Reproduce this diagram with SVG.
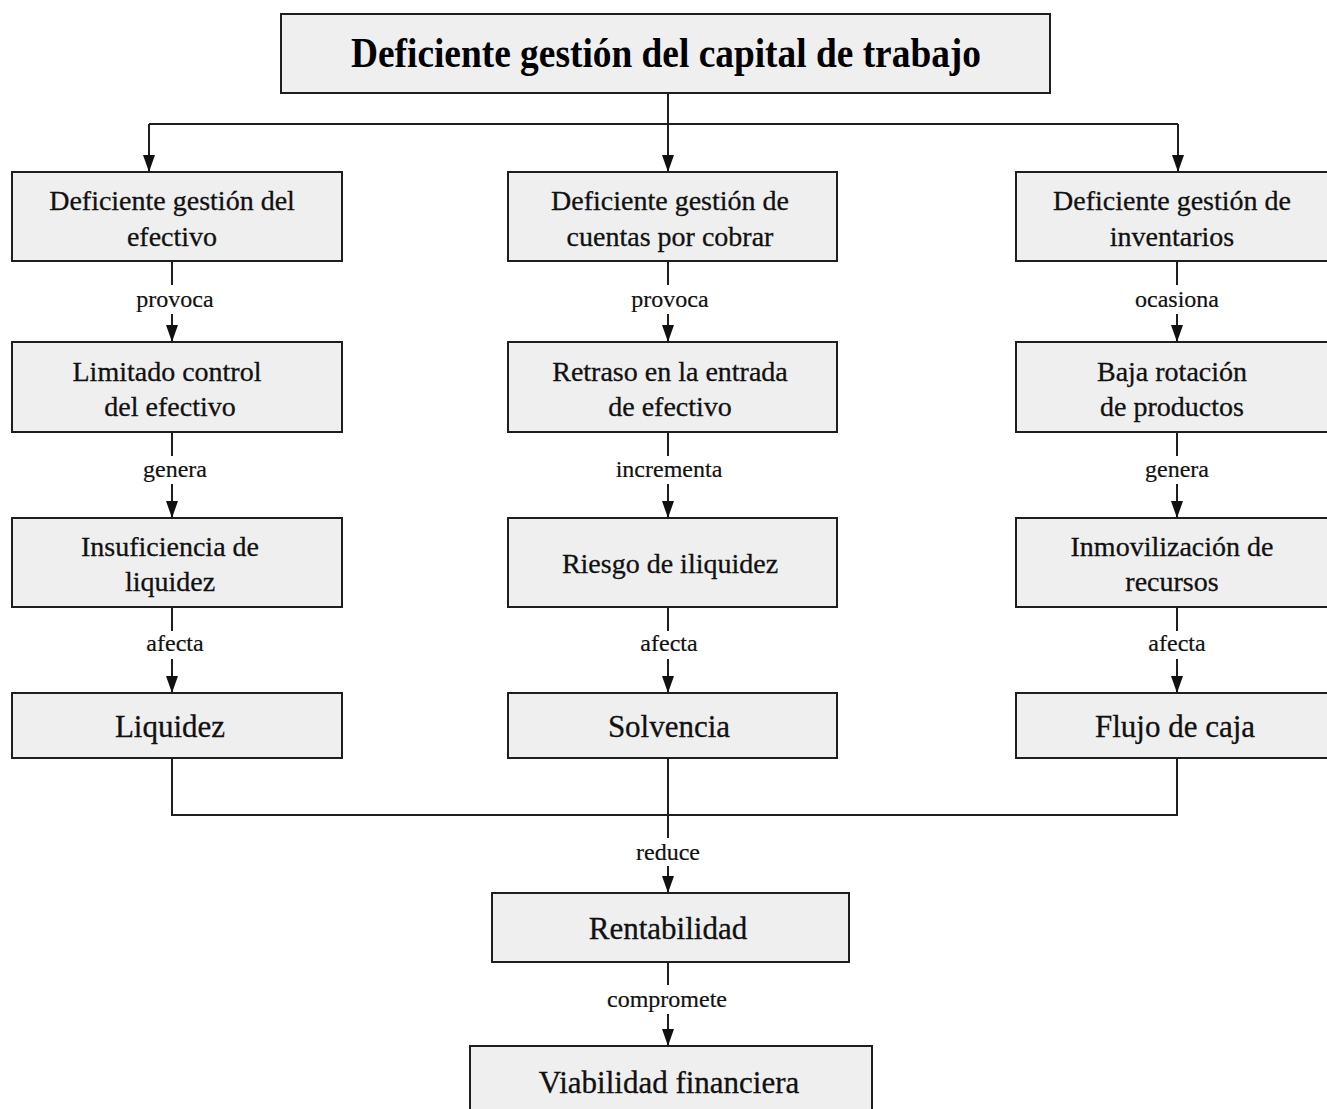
<svg xmlns="http://www.w3.org/2000/svg" width="1327" height="1109" viewBox="0 0 1327 1109">
<style>
.box{fill:#efefef;stroke:#1e1e1e;stroke-width:2}
.t{font-family:"Liberation Serif","Times New Roman",serif;font-size:28px;fill:#111;text-anchor:middle;stroke:#111;stroke-width:0.3}
.tb{font-size:31px}
.title{font-family:"Liberation Serif","Times New Roman",serif;font-size:42px;font-weight:bold;fill:#000;text-anchor:middle}
.lbl{font-family:"Liberation Serif","Times New Roman",serif;font-size:24px;fill:#111;text-anchor:middle;stroke:#111;stroke-width:0.2}
.ln{fill:none;stroke:#1e1e1e;stroke-width:2}
</style>
<defs>
<marker id="ah" markerWidth="17" markerHeight="12" refX="17" refY="6" orient="auto" markerUnits="userSpaceOnUse" viewBox="0 0 17 12">
<path d="M0,0 L17,6 L0,12 z" fill="#111"/>
</marker>
</defs>
<rect width="1327" height="1109" fill="#ffffff"/>
<g id="connectors">
<path class="ln" d="M668,93 V172" marker-end="url(#ah)"/>
<path class="ln" d="M149,124 H1178"/>
<path class="ln" d="M149,124 V172" marker-end="url(#ah)"/>
<path class="ln" d="M1178,124 V172" marker-end="url(#ah)"/>
<path class="ln" d="M172,261 V285"/><path class="ln" d="M172,314 V342" marker-end="url(#ah)"/>
<path class="ln" d="M172,432 V456"/><path class="ln" d="M172,484 V518" marker-end="url(#ah)"/>
<path class="ln" d="M172,607 V631"/><path class="ln" d="M172,659 V693" marker-end="url(#ah)"/>
<path class="ln" d="M668,261 V285"/><path class="ln" d="M668,314 V342" marker-end="url(#ah)"/>
<path class="ln" d="M668,432 V456"/><path class="ln" d="M668,484 V518" marker-end="url(#ah)"/>
<path class="ln" d="M668,607 V631"/><path class="ln" d="M668,659 V693" marker-end="url(#ah)"/>
<path class="ln" d="M1177,261 V285"/><path class="ln" d="M1177,314 V342" marker-end="url(#ah)"/>
<path class="ln" d="M1177,432 V456"/><path class="ln" d="M1177,484 V518" marker-end="url(#ah)"/>
<path class="ln" d="M1177,607 V631"/><path class="ln" d="M1177,659 V693" marker-end="url(#ah)"/>
<path class="ln" d="M172,758 V815 H1177 V758"/>
<path class="ln" d="M668,758 V838"/>
<path class="ln" d="M668,866 V893" marker-end="url(#ah)"/>
<path class="ln" d="M668,962 V985"/>
<path class="ln" d="M668,1014 V1046" marker-end="url(#ah)"/>
<text class="lbl" x="175" y="307">provoca</text>
<text class="lbl" x="175" y="477">genera</text>
<text class="lbl" x="175" y="651">afecta</text>
<text class="lbl" x="670" y="307">provoca</text>
<text class="lbl" x="669" y="477">incrementa</text>
<text class="lbl" x="669" y="651">afecta</text>
<text class="lbl" x="1177" y="307">ocasiona</text>
<text class="lbl" x="1177" y="477">genera</text>
<text class="lbl" x="1177" y="651">afecta</text>
<text class="lbl" x="668" y="860">reduce</text>
<text class="lbl" x="667" y="1007">compromete</text>
</g>
<g id="n-root"><rect class="box" x="281" y="14" width="769" height="79"/><text class="title" x="666" y="67" textLength="630" lengthAdjust="spacingAndGlyphs">Deficiente gestión del capital de trabajo</text></g>
<g id="n-efectivo"><rect class="box" x="12" y="172" width="330" height="89"/><text class="t" x="172" y="210">Deficiente gestión del</text><text class="t" x="172" y="246">efectivo</text></g>
<g id="n-cuentas"><rect class="box" x="508" y="172" width="329" height="89"/><text class="t" x="670" y="210">Deficiente gestión de</text><text class="t" x="670" y="246">cuentas por cobrar</text></g>
<g id="n-inventarios"><rect class="box" x="1016" y="172" width="320" height="89"/><text class="t" x="1172" y="210">Deficiente gestión de</text><text class="t" x="1172" y="246">inventarios</text></g>
<g id="n-limitado"><rect class="box" x="12" y="342" width="330" height="90"/><text class="t" x="167" y="381">Limitado control</text><text class="t" x="170" y="416">del efectivo</text></g>
<g id="n-retraso"><rect class="box" x="508" y="342" width="329" height="90"/><text class="t" x="670" y="381">Retraso en la entrada</text><text class="t" x="670" y="416">de efectivo</text></g>
<g id="n-baja"><rect class="box" x="1016" y="342" width="320" height="90"/><text class="t" x="1172" y="381">Baja rotación</text><text class="t" x="1172" y="416">de productos</text></g>
<g id="n-insuficiencia"><rect class="box" x="12" y="518" width="330" height="89"/><text class="t" x="170" y="556">Insuficiencia de</text><text class="t" x="170" y="591">liquidez</text></g>
<g id="n-riesgo"><rect class="box" x="508" y="518" width="329" height="89"/><text class="t" x="670" y="573">Riesgo de iliquidez</text></g>
<g id="n-inmovilizacion"><rect class="box" x="1016" y="518" width="320" height="89"/><text class="t" x="1172" y="556">Inmovilización de</text><text class="t" x="1172" y="591">recursos</text></g>
<g id="n-liquidez"><rect class="box" x="12" y="693" width="330" height="65"/><text class="t tb" x="170" y="737">Liquidez</text></g>
<g id="n-solvencia"><rect class="box" x="508" y="693" width="329" height="65"/><text class="t tb" x="669" y="737">Solvencia</text></g>
<g id="n-flujo"><rect class="box" x="1016" y="693" width="320" height="65"/><text class="t tb" x="1175" y="737">Flujo de caja</text></g>
<g id="n-rentabilidad"><rect class="box" x="492" y="893" width="357" height="69"/><text class="t tb" x="668" y="939">Rentabilidad</text></g>
<g id="n-viabilidad"><rect class="box" x="470" y="1046" width="402" height="80"/><text class="t tb" x="669" y="1093">Viabilidad financiera</text></g>
</svg>
